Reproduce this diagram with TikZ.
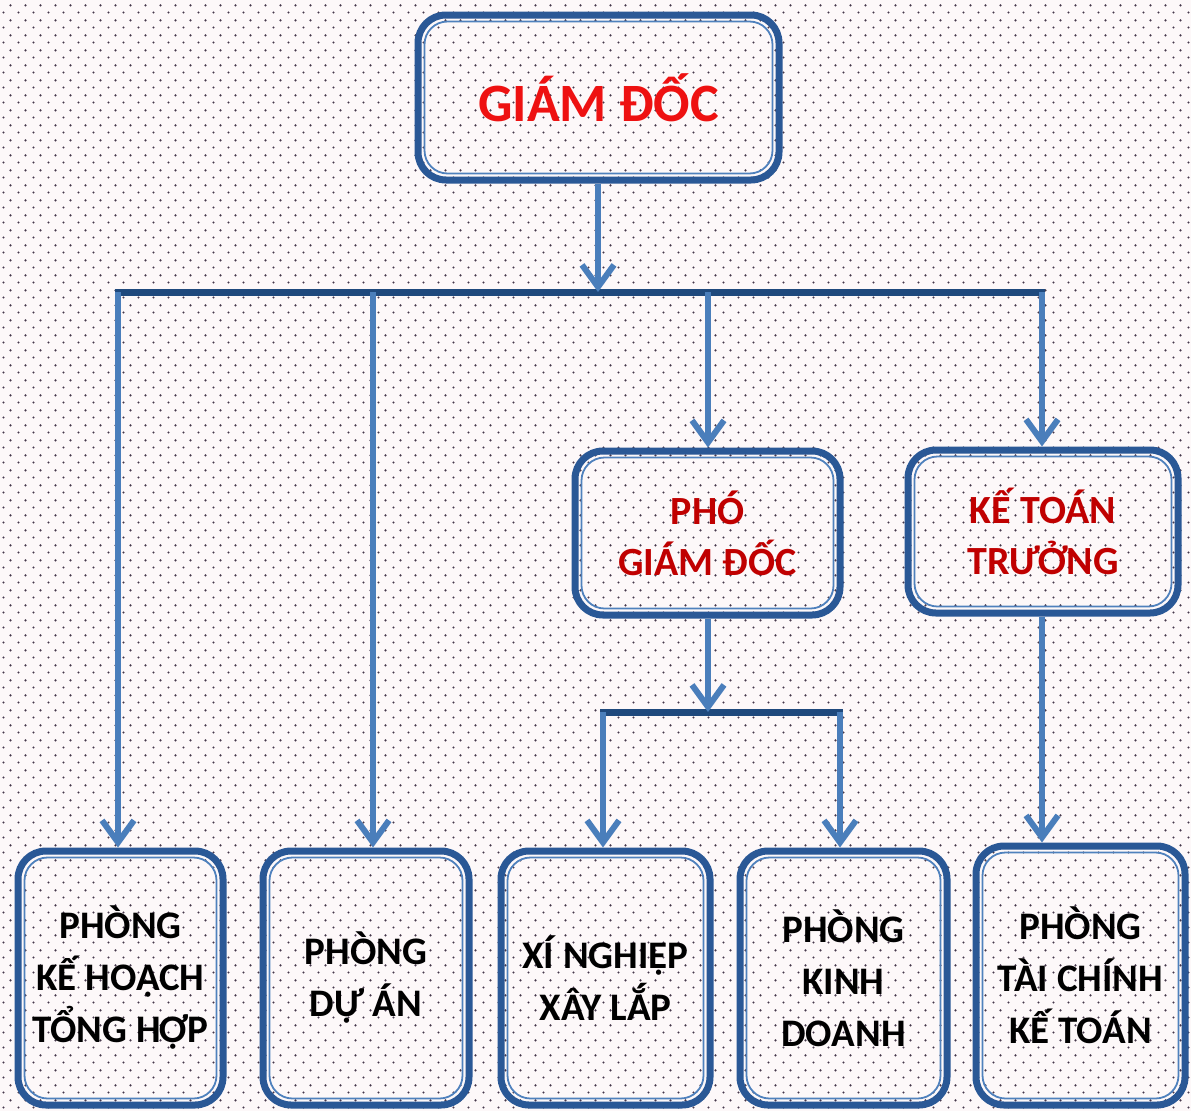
\documentclass[tikz,border=0pt]{standalone}
\usepackage{fontspec}
\setmainfont{Carlito}
\usetikzlibrary{arrows.meta,patterns}
\definecolor{navy}{HTML}{1F497D}
\definecolor{boxc}{HTML}{2A5896}
\definecolor{innerc}{HTML}{4F81BD}
\definecolor{arrc}{HTML}{4A7EBB}
\definecolor{redA}{HTML}{EE1111}
\definecolor{redB}{HTML}{C00000}
\definecolor{dotc}{HTML}{46384C}
\definecolor{bgc}{HTML}{FDF8F9}
\pgfdeclarepatternformonly{bgdots}{\pgfpointorigin}{\pgfpoint{14.5pt}{14.6pt}}{\pgfpoint{14.5pt}{14.6pt}}{%
  \pgfpathcircle{\pgfpoint{3.6pt}{3.6pt}}{1.25pt}%
  \pgfpathcircle{\pgfpoint{10.85pt}{10.9pt}}{1.25pt}%
  \pgfusepath{fill}}
\tikzset{
  orgbox/.style={draw=boxc, line width=7pt, rounded corners=28pt, align=center, inner sep=0pt,
    path picture={\draw[innerc, line width=1.8pt, rounded corners=23pt]
      ([shift={(6.5pt,6.5pt)}]path picture bounding box.south west) rectangle
      ([shift={(-6.5pt,-6.5pt)}]path picture bounding box.north east);}},
  topbox/.style={orgbox, text=redA, font=\fontsize{54}{60}\selectfont\bfseries},
  midbox/.style={orgbox, text=redB, font=\fontsize{40}{51}\selectfont\bfseries},
  lowbox/.style={orgbox, text=black, font=\fontsize{39}{52}\selectfont\bfseries},
  arr/.style={draw=arrc, line width=6pt, -{Straight Barb[length=22pt,width=32pt]}},
  bar/.style={draw=navy, line width=7pt},
}
\begin{document}
\begin{tikzpicture}[x=1pt,y=-1pt]
\useasboundingbox (0,0) rectangle (1191,1111);
\fill[bgc] (0,0) rectangle (1191,1111);
\fill[pattern=bgdots, pattern color=dotc] (0,0) rectangle (1191,1111);

\node[topbox, minimum width=361pt, minimum height=165pt] (gd) at (598.5,97.5) {GIÁM ĐỐC};
\node[midbox, minimum width=265pt, minimum height=164pt] (pgd) at (707.5,533) {PHÓ\\GIÁM ĐỐC};
\node[midbox, minimum width=270pt, minimum height=163pt] (ktt) at (1043,531.5) {KẾ TOÁN\\TRƯỞNG};
\node[lowbox, minimum width=205pt, minimum height=254pt] (b1) at (120.5,978) {PHÒNG\\KẾ HOẠCH\\TỔNG HỢP};
\node[lowbox, minimum width=206pt, minimum height=254pt] (b2) at (366,978) {PHÒNG\\DỰ ÁN};
\node[lowbox, minimum width=209pt, minimum height=254pt] (b3) at (605.5,978) {XÍ NGHIỆP\\XÂY LẮP};
\node[lowbox, minimum width=207pt, minimum height=254pt] (b4) at (843.5,978) {PHÒNG\\KINH\\DOANH};
\node[lowbox, minimum width=209pt, minimum height=259pt] (b5) at (1080.5,975.5) {PHÒNG\\TÀI CHÍNH\\KẾ TOÁN};

\coordinate (jt) at (598,292);
\coordinate (j1) at (118,292);
\coordinate (j2) at (373,292);
\coordinate (j3) at (708,292);
\coordinate (j4) at (1042,292);
\coordinate (jm) at (708,712);
\coordinate (jm3) at (603,712);
\coordinate (jm4) at (840,712);

\draw[bar] ([xshift=-3pt]j1) -- ([xshift=3pt]j4);
\draw[bar] ([xshift=-3pt]jm3) -- ([xshift=3pt]jm4);

\draw[arr] (gd.south -| jt) -- (jt);
\draw[arr] (j1) -- (j1 |- b1.north);
\draw[arr] (j2) -- (j2 |- b2.north);
\draw[arr] (j3) -- (j3 |- pgd.north);
\draw[arr] (j4) -- (j4 |- ktt.north);
\draw[arr] (pgd.south -| jm) -- (jm);
\draw[arr] (jm3) -- (jm3 |- b3.north);
\draw[arr] (jm4) -- (jm4 |- b4.north);
\draw[arr] (ktt.south -| j4) -- (j4 |- b5.north);
\end{tikzpicture}
\end{document}
